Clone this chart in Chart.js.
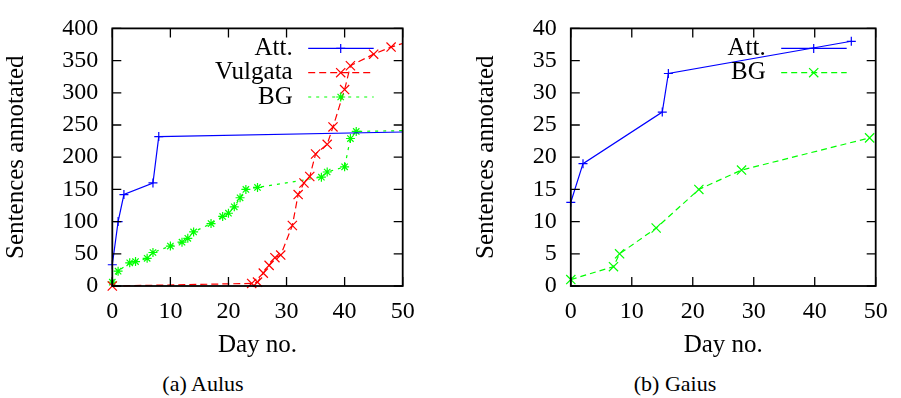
<!DOCTYPE html>
<html>
<head>
<meta charset="utf-8">
<script src="https://cdn.jsdelivr.net/npm/chart.js@4.4.1/dist/chart.umd.min.js"></script>
<style>
    html, body { margin: 0; padding: 0; background: #fff; }
    #page { position: relative; width: 901px; height: 398px; overflow: hidden; }
    canvas { position: absolute; top: 0; }
    #chartA { left: 0; }
    #chartB { left: 450px; }
    .caption {
        position: absolute; top: 371px;
        font-family: "Liberation Serif", serif; font-size: 22px; color: #000;
        transform: translateX(-50%); white-space: nowrap;
    }
</style>
</head>
<body>
<div id="page">
    <canvas id="chartA" width="440" height="370"></canvas>
    <canvas id="chartB" width="451" height="370"></canvas>
    <div class="caption" style="left:203px">(a) Aulus</div>
    <div class="caption" style="left:675px">(b) Gaius</div>
</div>
<script>
// Data (a) Aulus
const aulusAttDays = [0, 1, 2, 7, 8, 55];
const aulusAttSentences = [33, 100, 142, 160, 232, 240];
const aulusVulgataDays = [0, 24, 25, 26, 27, 28, 29, 31, 32, 33, 34, 35, 37, 38, 40, 41, 45, 48, 52];
const aulusVulgataSentences = [0, 4, 6, 20, 32, 44, 48, 94, 142, 160, 170, 205, 220, 247, 305, 342, 360, 371, 382];
const aulusBgDays = [0, 1, 3, 4, 6, 7, 10, 12, 13, 14, 17, 19, 20, 21, 22, 23, 25, 36, 37, 40, 41, 42, 55];
const aulusBgSentences = [6, 23, 36, 38, 43, 52, 62, 68, 74, 84, 97, 108, 113, 123, 137, 150, 153, 169, 177, 185, 229, 240, 242];

// Data (b) Gaius
const gaiusAttDays = [0, 2, 15, 16, 46];
const gaiusAttSentences = [13, 19, 27, 33, 38];
const gaiusBgDays = [0, 7, 8, 14, 21, 28, 49];
const gaiusBgSentences = [1, 3, 5, 9, 15, 18, 23];

// Tick labels
const dayTicks = [0, 10, 20, 30, 40, 50];
const aulusTicks = [0, 50, 100, 150, 200, 250, 300, 350, 400];
const gaiusTicks = [0, 5, 10, 15, 20, 25, 30, 35, 40];

Chart.defaults.font.family = '"Liberation Serif", serif';
Chart.defaults.color = '#000';

const BLUE = 'rgb(0,0,255)';
const RED = 'rgb(255,0,0)';
const GREEN = 'rgb(0,255,0)';

// gnuplot style markers
const drawMarker = (ctx, style, r, x, y) => {
    ctx.beginPath();
    if (style === 'cross' || style === 'star') {
        ctx.moveTo(x - r, y); ctx.lineTo(x + r, y);
        ctx.moveTo(x, y - r); ctx.lineTo(x, y + r);
    }
    if (style === 'crossRot' || style === 'star') {
        const d = r * Math.SQRT1_2;
        ctx.moveTo(x - d, y - d); ctx.lineTo(x + d, y + d);
        ctx.moveTo(x - d, y + d); ctx.lineTo(x + d, y - d);
    }
    ctx.stroke();
};

// Frame, inward ticks on all sides and the key
const gnuplotFrame = {
    id: 'gnuplotFrame',
    afterDatasetsDraw(chart) {
        const { ctx, chartArea: a, scales: { x, y } } = chart;
        ctx.save();
        ctx.strokeStyle = '#000';
        ctx.lineWidth = 1.3;
        ctx.beginPath();
        x.ticks.forEach(t => {
            const px = x.getPixelForValue(t.value);
            ctx.moveTo(px, a.bottom); ctx.lineTo(px, a.bottom - 9);
            ctx.moveTo(px, a.top); ctx.lineTo(px, a.top + 9);
        });
        y.ticks.forEach(t => {
            const py = y.getPixelForValue(t.value);
            ctx.moveTo(a.left, py); ctx.lineTo(a.left + 9, py);
            ctx.moveTo(a.right, py); ctx.lineTo(a.right - 9, py);
        });
        ctx.stroke();
        ctx.lineWidth = 1.8;
        ctx.strokeRect(a.left, a.top, a.right - a.left, a.bottom - a.top);

        // key
        ctx.font = '25px "Liberation Serif", serif';
        ctx.textAlign = 'right';
        ctx.textBaseline = 'middle';
        chart.data.datasets.forEach((ds, i) => {
            const ky = a.top + 20 + i * 24.3;
            ctx.fillStyle = '#000';
            ctx.fillText(ds.label, a.right - 110, ky);
            ctx.strokeStyle = ds.borderColor;
            ctx.lineWidth = ds.borderWidth;
            ctx.setLineDash(ds.borderDash);
            ctx.beginPath();
            ctx.moveTo(a.right - 94.5, ky);
            ctx.lineTo(a.right - 29, ky);
            ctx.stroke();
            ctx.setLineDash([]);
            ctx.lineWidth = ds.pointBorderWidth;
            drawMarker(ctx, ds.pointStyle, ds.pointRadius, a.right - 62, ky);
        });
        ctx.restore();
    }
};

const makeDataset = (label, days, values, color, dash, marker, radius) => ({
    label,
    data: days.map((d, i) => ({ x: d, y: values[i] })),
    borderColor: color,
    backgroundColor: color,
    borderWidth: 1.2,
    borderDash: dash,
    pointStyle: marker,
    pointRadius: radius,
    pointBorderWidth: 1.2,
    pointBorderColor: color,
    tension: 0,
    fill: false,
    clip: { left: 12, top: 12, right: 0, bottom: 12 }
});

const makeChart = (canvasId, datasets, yTicks, yWidth, padding) => new Chart(document.getElementById(canvasId), {
    type: 'line',
    data: { datasets },
    options: {
        responsive: false,
        animation: false,
        events: [],
        layout: { padding },
        plugins: { legend: { display: false }, tooltip: { enabled: false } },
        scales: {
            x: {
                type: 'linear',
                min: dayTicks[0],
                max: dayTicks[dayTicks.length - 1],
                afterBuildTicks: s => { s.ticks = dayTicks.map(v => ({ value: v })); },
                afterFit: s => { s.height = 74; },
                grid: { display: false, drawTicks: false, tickLength: 0 },
                border: { display: false },
                ticks: { font: { size: 24 }, padding: 11, maxRotation: 0, autoSkip: false },
                title: { display: true, text: 'Day no.', font: { size: 25 }, padding: 0 }
            },
            y: {
                type: 'linear',
                min: yTicks[0],
                max: yTicks[yTicks.length - 1],
                afterBuildTicks: s => { s.ticks = yTicks.map(v => ({ value: v })); },
                afterFit: s => { s.width = yWidth; },
                grid: { display: false, drawTicks: false, tickLength: 0 },
                border: { display: false },
                ticks: { font: { size: 24 }, padding: 14, autoSkip: false },
                title: { display: true, text: 'Sentences annotated', font: { size: 25 }, padding: { top: 1, bottom: 0 } }
            }
        }
    },
    plugins: [gnuplotFrame]
});

makeChart('chartA', [
    makeDataset('Att.', aulusAttDays, aulusAttSentences, BLUE, [], 'cross', 4.5),
    makeDataset('Vulgata', aulusVulgataDays, aulusVulgataSentences, RED, [7, 4], 'crossRot', 6.5),
    makeDataset('BG', aulusBgDays, aulusBgSentences, GREEN, [3, 5], 'star', 4.5)
], aulusTicks, 112.3, { left: 0, top: 15, right: 37.3, bottom: 10 });

makeChart('chartB', [
    makeDataset('Att.', gaiusAttDays, gaiusAttSentences, BLUE, [], 'cross', 4.5),
    makeDataset('BG', gaiusBgDays, gaiusBgSentences, GREEN, [6, 4], 'crossRot', 6.5)
], gaiusTicks, 100.8, { left: 20, top: 15, right: 25.3, bottom: 10 });
</script>
</body>
</html>
